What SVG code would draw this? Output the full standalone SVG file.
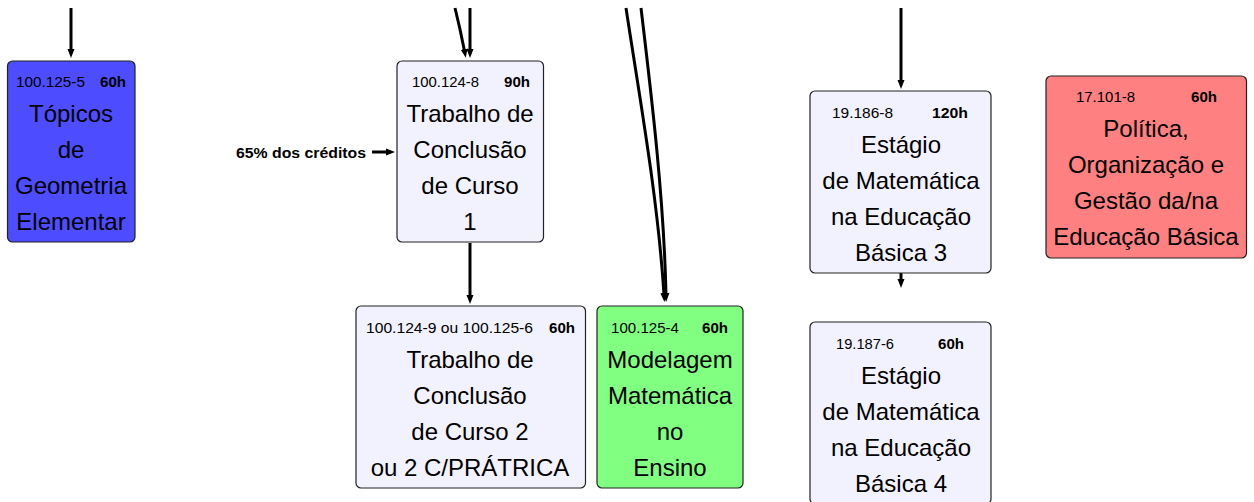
<svg xmlns="http://www.w3.org/2000/svg" width="1254" height="502" viewBox="0 0 1254 502">
<style>
.box{stroke:#222;stroke-width:1.2}
.lav{fill:#f2f2ff}
.blue{fill:#4d4dff}
.green{fill:#80ff80}
.red{fill:#ff8080}
.code{font-family:"Liberation Sans",Arial,sans-serif;font-size:14px;fill:#000}
.hrs{font-family:"Liberation Sans",Arial,sans-serif;font-size:14px;font-weight:bold;fill:#000}
.title{font-family:"Liberation Sans",Arial,sans-serif;font-size:24px;fill:#000;text-anchor:middle}
.lbl{font-family:"Liberation Sans",Arial,sans-serif;font-size:14px;font-weight:bold;fill:#000}
.edge{fill:none;stroke:#000;stroke-width:3}
</style>
<defs>
<marker id="ah" markerUnits="userSpaceOnUse" markerWidth="9" markerHeight="8" refX="2" refY="4" orient="auto">
<path d="M0,0.5 L9,4 L0,7.5 z" fill="#000"/>
</marker>
</defs>
<rect width="1254" height="502" fill="#fff"/>
<g id="connectors">
<line class="edge" x1="71" y1="8" x2="71" y2="51" marker-end="url(#ah)"/>
<path class="edge" d="M455,8 Q460,28 464.5,51" marker-end="url(#ah)"/>
<line class="edge" x1="470" y1="8" x2="470" y2="51" marker-end="url(#ah)"/>
<path class="edge" d="M626,8 C640,100 658,200 664,295" marker-end="url(#ah)"/>
<path class="edge" d="M641,8 C652,100 664,200 666,295" marker-end="url(#ah)"/>
<line class="edge" x1="470" y1="243" x2="470" y2="297" marker-end="url(#ah)"/>
<line class="edge" x1="901" y1="8" x2="901" y2="82" marker-end="url(#ah)"/>
<line class="edge" x1="901" y1="273" x2="901" y2="281" marker-end="url(#ah)"/>
<line class="edge" x1="372" y1="152" x2="388" y2="152" marker-end="url(#ah)"/>
<text class="lbl" x="236" y="158" textLength="130" lengthAdjust="spacingAndGlyphs">65% dos créditos</text>
</g>
<g id="n-topicos">
<rect class="box blue" x="7.5" y="61" width="127.5" height="181" rx="5"/>
<text class="code" x="16" y="87" textLength="69" lengthAdjust="spacingAndGlyphs">100.125-5</text>
<text class="hrs" x="100" y="87" textLength="26" lengthAdjust="spacingAndGlyphs">60h</text>
<text class="title" x="71" y="122">Tópicos</text>
<text class="title" x="71" y="158">de</text>
<text class="title" x="71" y="194">Geometria</text>
<text class="title" x="71" y="230">Elementar</text>
</g>
<g id="n-tcc1">
<rect class="box lav" x="397" y="61" width="146.5" height="181" rx="5"/>
<text class="code" x="412" y="87" textLength="67" lengthAdjust="spacingAndGlyphs">100.124-8</text>
<text class="hrs" x="504" y="87" textLength="26" lengthAdjust="spacingAndGlyphs">90h</text>
<text class="title" x="470" y="122">Trabalho de</text>
<text class="title" x="470" y="158">Conclusão</text>
<text class="title" x="470" y="194">de Curso</text>
<text class="title" x="470" y="230">1</text>
</g>
<g id="n-tcc2">
<rect class="box lav" x="356" y="306" width="229.5" height="182" rx="5"/>
<text class="code" x="366" y="333" textLength="167" lengthAdjust="spacingAndGlyphs">100.124-9 ou 100.125-6</text>
<text class="hrs" x="549" y="333" textLength="26" lengthAdjust="spacingAndGlyphs">60h</text>
<text class="title" x="470" y="368">Trabalho de</text>
<text class="title" x="470" y="404">Conclusão</text>
<text class="title" x="470" y="440">de Curso 2</text>
<text class="title" x="470" y="476">ou 2 C/PRÁTRICA</text>
</g>
<g id="n-modelagem">
<rect class="box green" x="597" y="306" width="146" height="182" rx="5"/>
<text class="code" x="611" y="333" textLength="68" lengthAdjust="spacingAndGlyphs">100.125-4</text>
<text class="hrs" x="702" y="333" textLength="26" lengthAdjust="spacingAndGlyphs">60h</text>
<text class="title" x="670" y="368">Modelagem</text>
<text class="title" x="670" y="404">Matemática</text>
<text class="title" x="670" y="440">no</text>
<text class="title" x="670" y="476">Ensino</text>
</g>
<g id="n-estagio3">
<rect class="box lav" x="810" y="91" width="181" height="182" rx="5"/>
<text class="code" x="832" y="118" textLength="61" lengthAdjust="spacingAndGlyphs">19.186-8</text>
<text class="hrs" x="932" y="118" textLength="36" lengthAdjust="spacingAndGlyphs">120h</text>
<text class="title" x="901" y="153">Estágio</text>
<text class="title" x="901" y="189">de Matemática</text>
<text class="title" x="901" y="225">na Educação</text>
<text class="title" x="901" y="261">Básica 3</text>
</g>
<g id="n-estagio4">
<rect class="box lav" x="810" y="322" width="181" height="182" rx="5"/>
<text class="code" x="836" y="349" textLength="58" lengthAdjust="spacingAndGlyphs">19.187-6</text>
<text class="hrs" x="938" y="349" textLength="26" lengthAdjust="spacingAndGlyphs">60h</text>
<text class="title" x="901" y="384">Estágio</text>
<text class="title" x="901" y="420">de Matemática</text>
<text class="title" x="901" y="456">na Educação</text>
<text class="title" x="901" y="492">Básica 4</text>
</g>
<g id="n-politica">
<rect class="box red" x="1046" y="76" width="200.5" height="182" rx="5"/>
<text class="code" x="1076" y="102" textLength="59" lengthAdjust="spacingAndGlyphs">17.101-8</text>
<text class="hrs" x="1191" y="102" textLength="26" lengthAdjust="spacingAndGlyphs">60h</text>
<text class="title" x="1146" y="137">Política,</text>
<text class="title" x="1146" y="173">Organização e</text>
<text class="title" x="1146" y="209">Gestão da/na</text>
<text class="title" x="1146" y="245">Educação Básica</text>
</g>
</svg>
